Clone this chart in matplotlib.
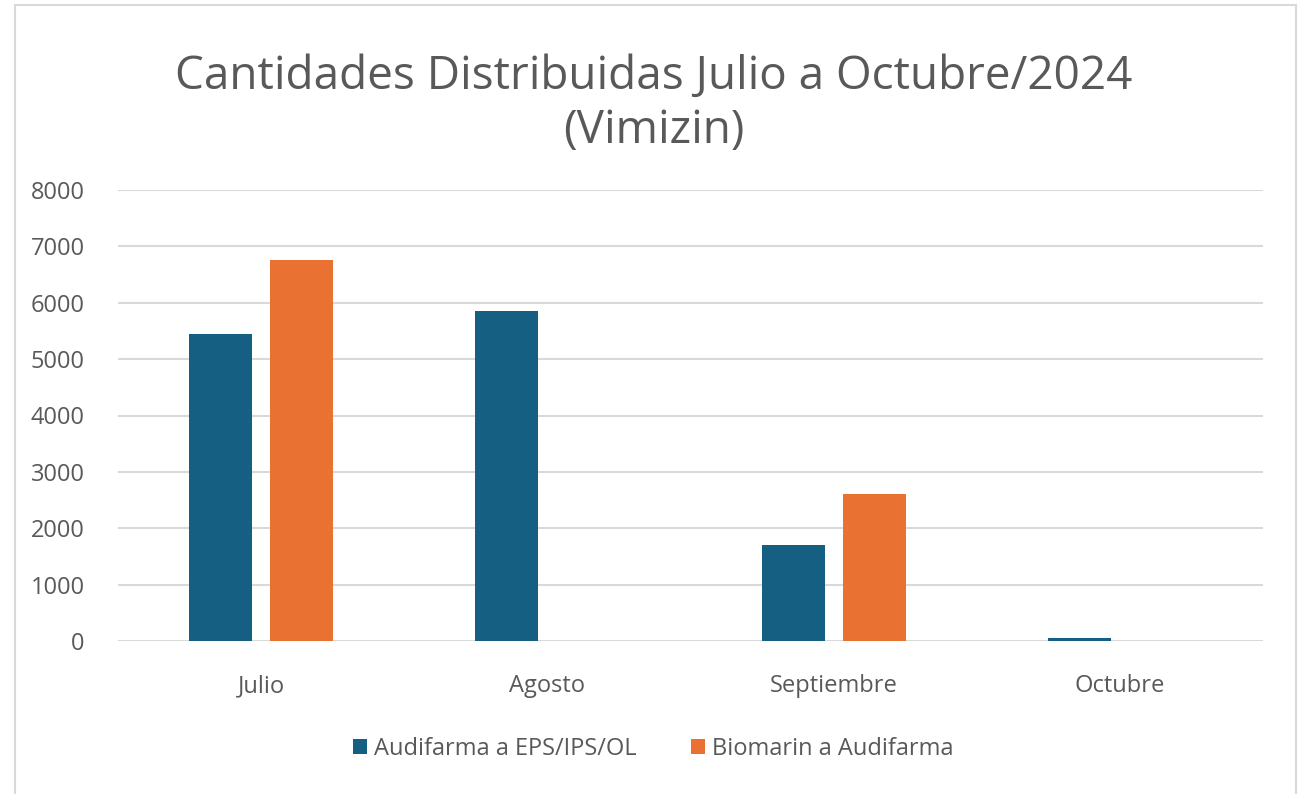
import numpy as np
import matplotlib.pyplot as plt
from matplotlib.patches import Rectangle

plt.rcParams['font.family'] = ['Open Sans', 'DejaVu Sans']

months = ['Julio', 'Agosto', 'Septiembre', 'Octubre']
audifarma = [5450, 5850, 1700, 50]
biomarin = [6750, np.nan, 2600, np.nan]
series_names = ['Audifarma a EPS/IPS/OL', 'Biomarin a Audifarma']
yticks = [0, 1000, 2000, 3000, 4000, 5000, 6000, 7000, 8000]

blue = '#156082'
orange = '#E97132'
grid_col = '#D9D9D9'
text_col = '#595959'

fig = plt.figure(figsize=(13.07, 7.94), dpi=100)
# outer chart border (bottom edge is cut off in the original)
fig.patches.append(Rectangle((15 / 1307, -0.01), (1296 - 15) / 1307, 1 - 5 / 794 + 0.01,
                             transform=fig.transFigure, fill=False,
                             edgecolor=grid_col, linewidth=1.5, zorder=0))

ax = fig.add_axes([118 / 1307, 153 / 794, (1263 - 118) / 1307, (641 - 190) / 794])
x = np.arange(len(months))
w = 0.22
off = 0.1416
ax.bar(x - off, audifarma, w, color=blue, label=series_names[0], zorder=3)
ax.bar(x + off, biomarin, w, color=orange, label=series_names[1], zorder=3)

ax.set_xlim(-0.5, len(months) - 0.5)
ax.set_ylim(0, 8000)
ax.set_yticks(yticks)
ax.set_xticks(x)
ax.set_xticklabels(months)
ax.yaxis.grid(True, color=grid_col, linewidth=1.5, zorder=0)
for s in ax.spines.values():
    s.set_visible(False)
ax.tick_params(length=0, labelsize=17, colors=text_col)
ax.tick_params(axis='x', pad=24)
ax.tick_params(axis='y', pad=24)

fig.text(0.5, 1 - 104 / 794, 'Cantidades Distribuidas Julio a Octubre/2024\n(Vimizin)',
         ha='center', va='center', fontsize=33, color=text_col, linespacing=1.25)

fig.legend(loc='center', bbox_to_anchor=(0.5, 1 - 749 / 794), ncol=2, frameon=False,
           fontsize=17, labelcolor=text_col, handlelength=0.6, handleheight=0.6,
           handletextpad=0.3, columnspacing=2.3)

fig.savefig('out.png', dpi=100, facecolor='white')
